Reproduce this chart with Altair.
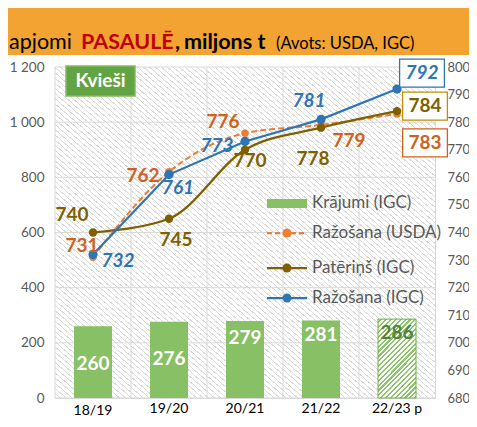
import altair as alt
import pandas as pd

# ---- data ----
seasons = ["18/19", "19/20", "20/21", "21/22", "22/23 p"]
stocks_igc = [260, 276, 279, 281, 286]          # Krājumi (IGC), left axis
prod_usda = [731, 762, 776, 779, 783]           # Ražošana (USDA), right axis
cons_igc = [740, 745, 770, 778, 784]            # Patēriņš (IGC), right axis
prod_igc = [732, 761, 773, 781, 792]            # Ražošana (IGC), right axis
left_ticks = list(range(0, 1201, 200))
right_ticks = list(range(680, 801, 10))

df = pd.DataFrame({
    "season": seasons, "idx": list(range(len(seasons))),
    "stocks": stocks_igc, "usda": prod_usda, "cons": cons_igc, "igc": prod_igc,
})
grid_df = pd.DataFrame({"v": left_ticks})
one = alt.Data(values=[{"a": 1}])

FONT = "Lato"
BLUE = "#2e75b6"
ORANGE = "#ed7d31"
ORANGE_T = "#d0611c"
BROWN = "#7f6000"
GREEN = "#87c065"
GRID = "#d9d9d9"
AXC = "#595959"
W, H = 380, 331


def stripes(n, bg, fg, frac):
    stops = []
    for i in range(n):
        a = i / n
        b = (i + 1 - frac) / n
        c = (i + 1) / n
        stops += [{"offset": a, "color": bg}, {"offset": b, "color": bg},
                  {"offset": b, "color": fg}, {"offset": c, "color": fg}]
    return stops


bg_grad = {"gradient": "linear", "x1": 0, "y1": 1, "x2": 1, "y2": 0,
           "stops": stripes(128, "#ffffff", "#dadada", 0.22)}
bar_grad = {"gradient": "linear", "x1": 0, "y1": 0, "x2": 0.58, "y2": 1.2,
            "stops": stripes(24, "#ffffff", "#8cc56b", 0.45)}

LS = alt.Scale(domain=[0, 1200], nice=False, zero=True)
RS = alt.Scale(domain=[680, 800], nice=False, zero=False)
XS = alt.Scale(paddingInner=0, paddingOuter=0)

x_axis = alt.Axis(title=None, labelAngle=0, ticks=False, domain=False, grid=False,
                  labelFont=FONT, labelFontSize=14, labelColor="#000000",
                  labelPadding={"condition": {"test": "datum.value == '18/19'", "value": 5},
                                "value": 3})
left_axis = alt.Axis(title=None, values=left_ticks, grid=False, ticks=False, domain=False,
                     labelExpr="replace(format(datum.value, ','), ',', ' ')",
                     labelFont=FONT, labelFontSize=13.5, labelColor=AXC, labelPadding=11)
right_axis = alt.Axis(title=None, orient="right", values=right_ticks, grid=False, ticks=False,
                      domain=False, labelFont=FONT, labelFontSize=13, labelColor=AXC,
                      labelPadding=12)

X = alt.X("season:N", sort=seasons, scale=XS, axis=x_axis)


def YL(field):
    return alt.Y(field, scale=LS, axis=left_axis)


def YR(field):
    return alt.Y(field, scale=RS, axis=right_axis)


base = alt.Chart(df)

# ---- left layer: background, grid, bars ----
bg = alt.Chart(one).mark_rect(fill=bg_grad).encode(
    x=alt.value(0), x2=alt.value("width"), y=alt.value(0), y2=alt.value("height"))
hgrid = alt.Chart(grid_df).mark_rule(color=GRID, strokeWidth=1).encode(
    y=YL("v:Q"), x=alt.value(0), x2=alt.value("width"))
vgrid = base.mark_rule(color=GRID, strokeWidth=1).encode(
    x=alt.X("season:N", sort=seasons, scale=XS, axis=x_axis, bandPosition=0),
    y=alt.value(0), y2=alt.value("height"))
bars = base.transform_filter("datum.idx < 4").mark_bar(
    color=GREEN, width=alt.RelativeBandSize(0.5)).encode(x=X, y=YL("stocks:Q"))
bar_last = base.transform_filter("datum.idx == 4").mark_bar(
    fill=bar_grad, stroke="#70ad47", strokeWidth=1, width=alt.RelativeBandSize(0.5)).encode(
    x=X, y=YL("stocks:Q"))

bar_dy = [38, 37, 17, 15, 14]
bar_lbl = []
for i in range(len(seasons)):
    bar_lbl.append(base.transform_filter(f"datum.idx == {i}").mark_text(
        font=FONT, fontSize=19, fontWeight="bold", dy=bar_dy[i],
        color="#ffffff" if i < 4 else "#548235").encode(
        x=X, y=YL("stocks:Q"), text="stocks:Q"))

kv_box = alt.Chart(one).mark_rect(fill="#62a343", stroke="#82bb62", strokeWidth=1.5).encode(
    x=alt.value(11), x2=alt.value(80), y=alt.value(-1), y2=alt.value(29))
kv_txt = alt.Chart(one).mark_text(text="Kvieši", font=FONT, fontSize=19, fontWeight="bold",
                                  color="#ffffff").encode(x=alt.value(45.5), y=alt.value(14))

left = alt.layer(bg, hgrid, vgrid, bars, bar_last, *bar_lbl, kv_box, kv_txt)

# ---- right layer: lines ----
usda_line = base.mark_line(color=ORANGE, strokeWidth=2, strokeDash=[6, 3],
                           interpolate="monotone").encode(x=X, y=YR("usda:Q"))
usda_pts = base.mark_circle(color=ORANGE, size=55, opacity=1).encode(x=X, y=YR("usda:Q"))
cons_line = base.mark_line(color=BROWN, strokeWidth=2.25, interpolate="monotone").encode(
    x=X, y=YR("cons:Q"))
cons_pts = base.mark_circle(color=BROWN, size=70, opacity=1).encode(x=X, y=YR("cons:Q"))
igc_line = base.mark_line(color=BLUE, strokeWidth=2.25).encode(x=X, y=YR("igc:Q"))
igc_pts = base.mark_circle(color=BLUE, size=85, opacity=1).encode(x=X, y=YR("igc:Q"))

label_style = {
    "igc": dict(color=BLUE, italic=True, offs=[(25, 6), (9, 13), (-28, 5), (-12, -18), (25, -16)],
                box=BLUE),
    "cons": dict(color=BROWN, italic=False, offs=[(-21, -18), (7, 21), (5, 11), (-8, 31), (28, -5)],
                 box="#bf9000"),
    "usda": dict(color=ORANGE_T, italic=False, offs=[(-11, -11), (-26, 4), (-22, -11), (28, 16), (28, 29)],
                 box=ORANGE_T),
}
box_shape = "M-1.6,-1L1.6,-1L1.6,1L-1.6,1Z"
lbls = []
for col, st in label_style.items():
    for i, (dx, dy) in enumerate(st["offs"]):
        b = base.transform_filter(f"datum.idx == {i}")
        if i == len(seasons) - 1:
            lbls.append(b.mark_point(shape=box_shape, size=784, filled=True, fill="#ffffff",
                                     stroke=st["box"], strokeWidth=1.3, opacity=1,
                                     xOffset=dx, yOffset=dy).encode(x=X, y=YR(f"{col}:Q")))
        lbls.append(b.mark_text(font=FONT, fontSize=19, fontWeight="bold",
                                fontStyle="italic" if st["italic"] else "normal",
                                color=st["color"], dx=dx, dy=dy).encode(
            x=X, y=YR(f"{col}:Q"), text=f"{col}:Q"))

right = alt.layer(usda_line, cons_line, igc_line, usda_pts, cons_pts, igc_pts, *lbls)

# ---- legend (drawn) ----
leg_items = [("Krājumi (IGC)", 136), ("Ražošana (USDA)", 166), ("Patēriņš (IGC)", 201),
             ("Ražošana (IGC)", 231)]
leg = []
leg.append(alt.Chart(one).mark_rect(color=GREEN).encode(
    x=alt.value(212), x2=alt.value(252), y=alt.value(132), y2=alt.value(141)))
for (name, yy), col, dash in zip(leg_items[1:], [ORANGE, BROWN, BLUE], [[5, 3], [1, 0], [1, 0]]):
    leg.append(alt.Chart(one).mark_rule(color=col, strokeWidth=2.25, strokeDash=dash).encode(
        x=alt.value(212), x2=alt.value(252), y=alt.value(yy)))
    leg.append(alt.Chart(one).mark_circle(color=col, size=80, opacity=1).encode(
        x=alt.value(232), y=alt.value(yy)))
for name, yy in leg_items:
    leg.append(alt.Chart(one).mark_text(text=name, align="left", font=FONT, fontSize=17,
                                        color=AXC).encode(x=alt.value(257), y=alt.value(yy)))

# ---- header ----
hdr = [alt.Chart(one).mark_rect(color="#f2a331").encode(
    x=alt.value(-47), x2=alt.value(W + 34), y=alt.value(-59), y2=alt.value(-12))]
title_parts = [("apjomi", -46, "normal", "#000000", 21.5),
               ("PASAULĒ", 26, "bold", "#c00000", 21.5),
               (",", 120, "bold", "#000000", 21.5),
               ("miljons t", 129, "bold", "#000000", 21.5),
               ("(Avots: USDA, IGC)", 221, "normal", "#000000", 16.5)]
for txt, xx, fw, colr, fs in title_parts:
    hdr.append(alt.Chart(one).mark_text(text=txt, align="left", baseline="alphabetic",
                                        font=FONT, fontSize=fs, fontWeight=fw, color=colr).encode(
        x=alt.value(xx), y=alt.value(-18)))

chart = alt.layer(left, right, *leg, *hdr).resolve_scale(y="independent").properties(
    width=W, height=H,
    autosize=alt.AutoSizeParams(type="none"),
    padding={"left": 47, "top": 59, "right": 34, "bottom": 19},
    background="#ffffff",
).configure_view(stroke=GRID, strokeWidth=1)

chart.save("out.html", embed_options={"renderer": "svg", "actions": False})
